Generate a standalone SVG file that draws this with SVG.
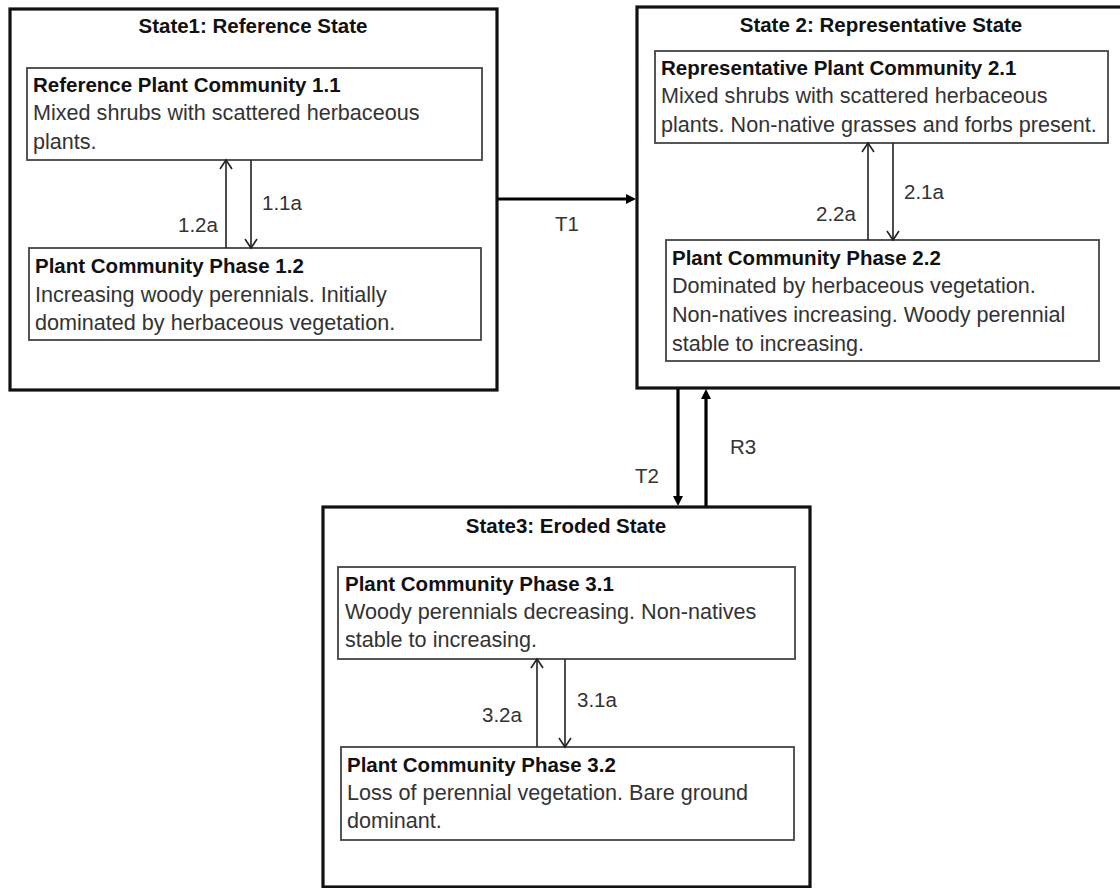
<svg xmlns="http://www.w3.org/2000/svg" width="1120" height="888" viewBox="0 0 1120 888">
<style>
.state{fill:#fff;stroke:#111;stroke-width:3.2}
.phase{fill:#fff;stroke:#444;stroke-width:1.8}
.t{font-family:"Liberation Sans",Arial,sans-serif;font-size:21.6px;fill:#333}
.b{font-family:"Liberation Sans",Arial,sans-serif;font-size:20.5px;font-weight:bold;fill:#111}
.mid{text-anchor:middle}
.thin{stroke:#222;stroke-width:1.6;fill:none}
.thick{stroke:#000;stroke-width:3.2;fill:none}
</style>
<defs>
<marker id="open" viewBox="-12 -8 14 16" refX="0" refY="0" markerWidth="14" markerHeight="16" markerUnits="userSpaceOnUse" orient="auto">
<path d="M-9,-6 L0,0 L-9,6" fill="none" stroke="#222" stroke-width="1.6"/>
</marker>
<marker id="solid" viewBox="-6 -7 14 14" refX="0" refY="0" markerWidth="14" markerHeight="14" markerUnits="userSpaceOnUse" orient="auto">
<path d="M-4,-5 L6,0 L-4,5 Z" fill="#000"/>
</marker>
</defs>
<rect width="1120" height="888" fill="#fff"/>

<g id="state1">
<rect class="state" x="10" y="9" width="487" height="381"/>
<text class="b mid" x="253" y="33">State1: Reference State</text>
</g>
<g id="phase1-1">
<rect class="phase" x="27" y="68" width="455" height="92"/>
<text class="b" x="33" y="92">Reference Plant Community 1.1</text>
<text class="t" x="33" y="120">Mixed shrubs with scattered herbaceous</text>
<text class="t" x="33" y="149">plants.</text>
</g>
<g id="phase1-2">
<rect class="phase" x="29" y="248" width="452" height="92"/>
<text class="b" x="35" y="273">Plant Community Phase 1.2</text>
<text class="t" x="35" y="302">Increasing woody perennials. Initially</text>
<text class="t" x="35" y="330">dominated by herbaceous vegetation.</text>
</g>

<g id="state2">
<rect class="state" x="637" y="7" width="495" height="381"/>
<text class="b mid" x="881" y="32">State 2: Representative State</text>
</g>
<g id="phase2-1">
<rect class="phase" x="655" y="51" width="453" height="92"/>
<text class="b" x="661" y="75">Representative Plant Community 2.1</text>
<text class="t" x="661" y="103">Mixed shrubs with scattered herbaceous</text>
<text class="t" x="661" y="132">plants. Non-native grasses and forbs present.</text>
</g>
<g id="phase2-2">
<rect class="phase" x="666" y="240" width="433" height="121"/>
<text class="b" x="672" y="265">Plant Community Phase 2.2</text>
<text class="t" x="672" y="293">Dominated by herbaceous vegetation.</text>
<text class="t" x="672" y="322">Non-natives increasing. Woody perennial</text>
<text class="t" x="672" y="351">stable to increasing.</text>
</g>

<g id="state3">
<rect class="state" x="323" y="507" width="487" height="380"/>
<text class="b mid" x="566" y="533">State3: Eroded State</text>
</g>
<g id="phase3-1">
<rect class="phase" x="338" y="567" width="457" height="92"/>
<text class="b" x="345" y="591">Plant Community Phase 3.1</text>
<text class="t" x="345" y="619">Woody perennials decreasing. Non-natives</text>
<text class="t" x="345" y="647">stable to increasing.</text>
</g>
<g id="phase3-2">
<rect class="phase" x="341" y="747" width="453" height="93"/>
<text class="b" x="347" y="772">Plant Community Phase 3.2</text>
<text class="t" x="347" y="800">Loss of perennial vegetation. Bare ground</text>
<text class="t" x="347" y="828">dominant.</text>
</g>

<g id="connectors">
<line class="thin" x1="226" y1="248" x2="226" y2="160" marker-end="url(#open)"/>
<line class="thin" x1="251" y1="160" x2="251" y2="248" marker-end="url(#open)"/>
<line class="thin" x1="868" y1="240" x2="868" y2="143" marker-end="url(#open)"/>
<line class="thin" x1="893" y1="143" x2="893" y2="240" marker-end="url(#open)"/>
<line class="thin" x1="537" y1="747" x2="537" y2="659" marker-end="url(#open)"/>
<line class="thin" x1="565" y1="659" x2="565" y2="747" marker-end="url(#open)"/>
<line class="thick" x1="498" y1="199" x2="630" y2="199" marker-end="url(#solid)"/>
<line class="thick" x1="678" y1="389" x2="678" y2="500" marker-end="url(#solid)"/>
<line class="thick" x1="706" y1="506" x2="706" y2="395" marker-end="url(#solid)"/>
<text class="t" x="262" y="210" style="font-size:20.5px">1.1a</text>
<text class="t" x="178" y="232" style="font-size:20.5px">1.2a</text>
<text class="t" x="904" y="199" style="font-size:20.5px">2.1a</text>
<text class="t" x="816" y="221" style="font-size:20.5px">2.2a</text>
<text class="t" x="577" y="707" style="font-size:20.5px">3.1a</text>
<text class="t" x="482" y="722" style="font-size:20.5px">3.2a</text>
<text class="t" x="555" y="231" style="font-size:20.5px">T1</text>
<text class="t" x="635" y="483" style="font-size:20.5px">T2</text>
<text class="t" x="730" y="454" style="font-size:20.5px">R3</text>
</g>
</svg>
